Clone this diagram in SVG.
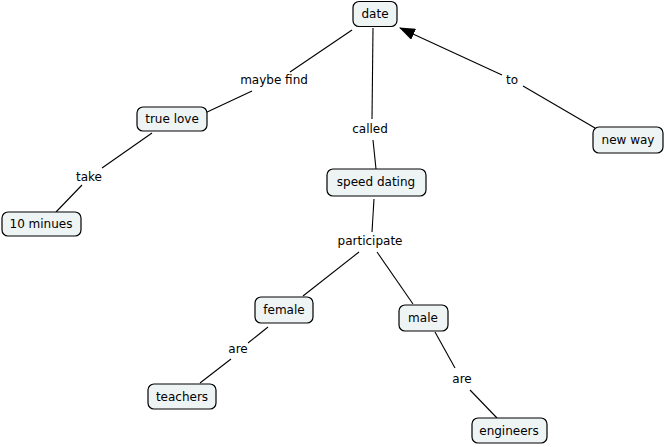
<svg xmlns="http://www.w3.org/2000/svg" width="665" height="447" viewBox="0 0 665 447">
<defs>
<style>
.n rect{fill:#eef3f4;stroke:#000;stroke-width:1.2}
.n text,.lbl{font-family:"DejaVu Sans",Verdana,sans-serif;font-size:12px;fill:#000;text-anchor:middle;dominant-baseline:central}
.c line{stroke:#000;stroke-width:1.1}
</style>
<marker id="ah" markerWidth="16" markerHeight="12" refX="15" refY="6" orient="auto" markerUnits="userSpaceOnUse">
<path d="M0,0 L16,6 L0,12 Z" fill="#000"/>
</marker>
</defs>
<rect width="665" height="447" fill="#fff"/>
<g id="connectors" class="c">
<line x1="352" y1="30" x2="290" y2="72"/>
<line x1="252" y1="91" x2="205" y2="113"/>
<line x1="373" y1="28" x2="372" y2="119"/>
<line x1="373" y1="140" x2="376" y2="169"/>
<line x1="595" y1="128" x2="523" y2="86"/>
<line x1="502" y1="75" x2="400" y2="28" marker-end="url(#ah)"/>
<line x1="152" y1="133" x2="102" y2="168"/>
<line x1="82" y1="185" x2="56" y2="212"/>
<line x1="374" y1="199" x2="372" y2="232"/>
<line x1="359" y1="252" x2="303" y2="296"/>
<line x1="377" y1="252" x2="413" y2="304"/>
<line x1="268" y1="327" x2="248" y2="343"/>
<line x1="231" y1="359" x2="200" y2="383"/>
<line x1="435" y1="332" x2="455" y2="368"/>
<line x1="470" y1="390" x2="497" y2="418"/>
<text class="lbl" x="274" y="80">maybe find</text>
<text class="lbl" x="370" y="129">called</text>
<text class="lbl" x="512" y="80">to</text>
<text class="lbl" x="89" y="177">take</text>
<text class="lbl" x="370" y="241">participate</text>
<text class="lbl" x="238" y="349">are</text>
<text class="lbl" x="462" y="379">are</text>
</g>
<g id="date" class="n"><rect x="353" y="1.5" width="44" height="25" rx="6"/><text x="375" y="14">date</text></g>
<g id="true-love" class="n"><rect x="137" y="107" width="70" height="24" rx="6"/><text x="172" y="119">true love</text></g>
<g id="ten-minues" class="n"><rect x="2" y="212" width="79" height="24" rx="6"/><text x="41" y="224">10 minues</text></g>
<g id="speed-dating" class="n"><rect x="327" y="169" width="99" height="27" rx="6"/><text x="376" y="182">speed dating</text></g>
<g id="new-way" class="n"><rect x="593" y="127" width="70" height="26" rx="6"/><text x="628" y="140">new way</text></g>
<g id="female" class="n"><rect x="255" y="297" width="58" height="26" rx="6"/><text x="284" y="310">female</text></g>
<g id="male" class="n"><rect x="399" y="305" width="49" height="26" rx="6"/><text x="423" y="318">male</text></g>
<g id="teachers" class="n"><rect x="148" y="384" width="68" height="25" rx="6"/><text x="182" y="397">teachers</text></g>
<g id="engineers" class="n"><rect x="472" y="418" width="75" height="25" rx="6"/><text x="509" y="431">engineers</text></g>
</svg>
